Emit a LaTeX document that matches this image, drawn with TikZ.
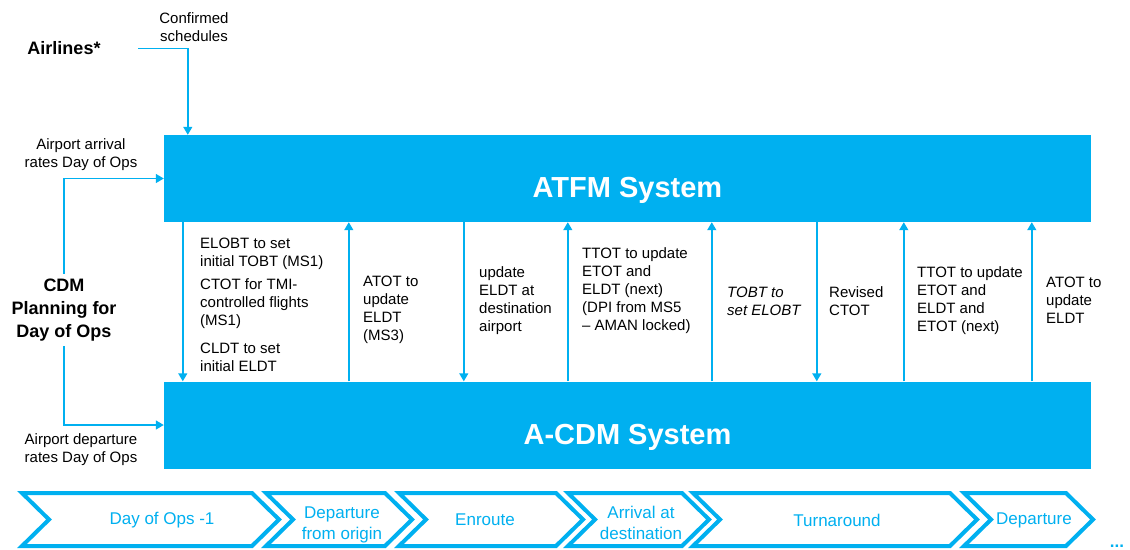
\documentclass[tikz,border=0pt]{standalone}
\usepackage{fontspec}
\setmainfont{Liberation Sans}
\usepackage{tikz}
\usetikzlibrary{arrows.meta, positioning}
\definecolor{cdmblue}{RGB}{0,176,240}

\begin{document}
\begin{tikzpicture}[x=1pt, y=-1pt,
    sysbox/.style={rectangle, fill=cdmblue, text=white, font=\fontsize{29}{34}\selectfont\bfseries, minimum width=927pt, minimum height=87pt, text height=38pt, text depth=0pt},
    lbl/.style={align=left, anchor=west, font=\fontsize{15}{18}\selectfont, inner sep=1pt},
    side/.style={align=center, font=\fontsize{15}{18}\selectfont, inner sep=1pt},
    flow/.style={-{Triangle[width=9pt,length=8pt]}, line width=1.4pt, draw=cdmblue},
    chev/.style={draw=cdmblue, line width=4pt, fill=white},
    phase/.style={align=center, text=cdmblue, font=\fontsize{17}{21}\selectfont, inner sep=1pt}
]
\useasboundingbox (0,0) rectangle (1130,549);

% Systems
\node[sysbox] (atfm) at (627.5,178.5) {ATFM System};
\node[sysbox] (acdm) at (627.5,425) {A-CDM System};

% Inputs
\node[font=\fontsize{18}{22}\selectfont\bfseries, minimum width=148pt] (airlines) at (64,48.5) {Airlines*};
\node[side] (sched) at (194,27.5) {Confirmed\\schedules};
\node[side] (arr) at (81,155) {Airport arrival\\rates Day of Ops};
\node[side] (dep) at (81,449.5) {Airport departure\\rates Day of Ops};
\node[font=\fontsize{18}{23}\selectfont\bfseries, align=center, inner sep=5pt] (cdm) at (64,310) {CDM\\Planning for\\Day of Ops};

\draw[flow] (airlines.east) -| ([xshift=24pt]atfm.north west);
\draw[flow] (cdm.north) |- (atfm.west);
\draw[flow] (cdm.south) |- (acdm.west);

% Exchanges between the systems
\foreach \dx in {19,300,653}
  \draw[flow] ([xshift=\dx pt]atfm.south west) -- ([xshift=\dx pt]acdm.north west);
\foreach \dx in {185,404,548,740,868}
  \draw[flow] ([xshift=\dx pt]acdm.north west) -- ([xshift=\dx pt]atfm.south west);

\node[lbl] (m1) at (199,304.5) {ELOBT to set\\initial TOBT (MS1)\\[5pt]CTOT for TMI-\\controlled flights\\(MS1)\\[10pt]CLDT to set\\initial ELDT};
\node[lbl] (m2) at (362,309.5) {ATOT to\\update\\ELDT\\(MS3)};
\node[lbl] (m3) at (478,301) {update\\ELDT at\\destination\\airport};
\node[lbl] (m4) at (581,291) {TTOT to update\\ETOT and\\ELDT (next)\\(DPI from MS5\\– AMAN locked)};
\node[lbl, font=\fontsize{15}{18}\selectfont\itshape] (m5) at (726,301) {TOBT to\\set ELOBT};
\node[lbl] (m6) at (828,301) {Revised\\CTOT};
\node[lbl] (m7) at (916,300.5) {TTOT to update\\ETOT and\\ELDT and\\ETOT (next)};
\node[lbl] (m8) at (1045,300.5) {ATOT to\\update\\ELDT};

% Phases
\foreach \a/\b in {22/252, 266/385, 399/556, 568/682, 693/950, 964/1066}
  \draw[chev] (\a,493) -- (\b,493) -- ++(27,26.5) -- (\b,546) -- (\a,546) -- ++(27,-26.5) -- cycle;

\node[phase] (p1) at (162,520) {Day of Ops -1};
\node[phase] (p2) at (342,525) {Departure\\from origin};
\node[phase] (p3) at (485,520) {Enroute};
\node[phase] (p4) at (641,522.5) {Arrival at\\destination};
\node[phase] (p5) at (837,520) {Turnaround};
\node[phase] (p6) at (1034,520) {Departure};
\node[text=cdmblue, font=\fontsize{17}{21}\selectfont\bfseries, anchor=base] (more) at (1117,547) {...};

\end{tikzpicture}
\end{document}
